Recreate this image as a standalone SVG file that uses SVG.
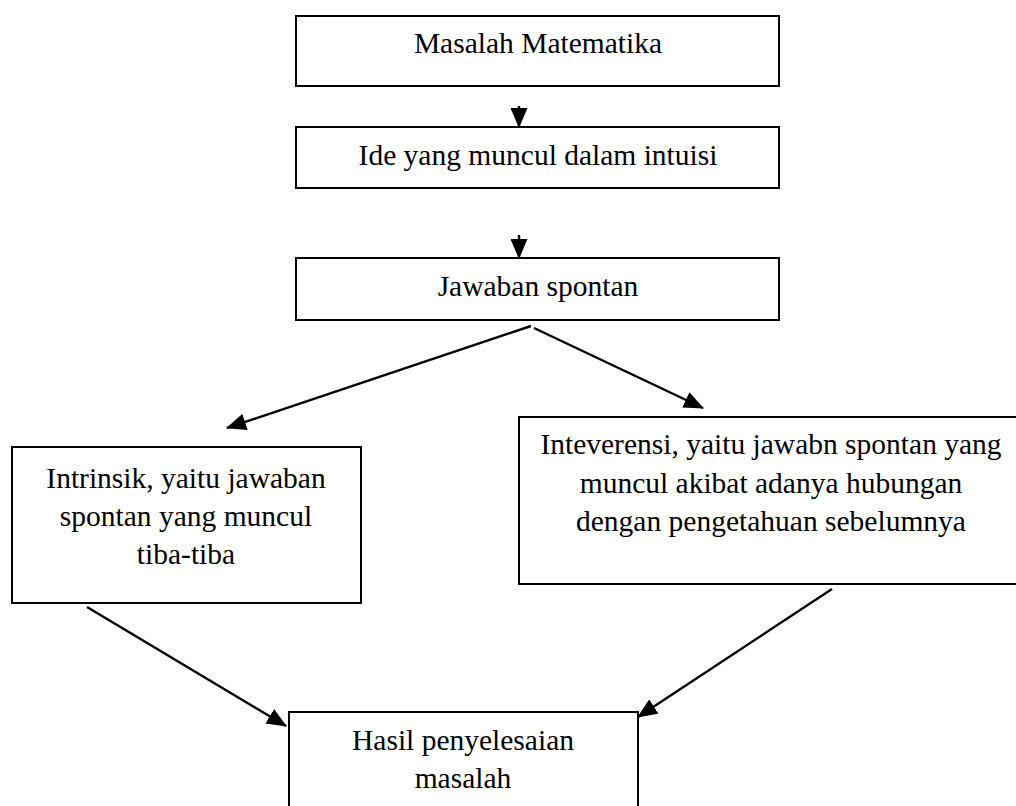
<svg xmlns="http://www.w3.org/2000/svg" width="1016" height="806" viewBox="0 0 1016 806">
<defs>
<style>
.box{fill:#fff;stroke:#000;stroke-width:2}
.t{font-family:"Liberation Serif","Times New Roman",serif;font-size:29.5px;fill:#000;text-anchor:middle}
.c{stroke:#000;stroke-width:2.4;fill:none;marker-end:url(#ah)}
</style>
<marker id="ah" markerUnits="userSpaceOnUse" markerWidth="20" markerHeight="17" refX="19" refY="8.5" orient="auto" viewBox="0 0 20 17">
<path d="M0,0 L20,8.5 L0,17 z" fill="#000"/>
</marker>
</defs>
<rect width="1016" height="806" fill="#fff"/>
<g id="connectors">
<line class="c" x1="519" y1="106" x2="519" y2="127"/>
<line class="c" x1="519" y1="235" x2="519" y2="258"/>
<line class="c" x1="531" y1="326" x2="227" y2="428"/>
<line class="c" x1="534" y1="328" x2="703" y2="408"/>
<line class="c" x1="87" y1="607" x2="286" y2="726"/>
<line class="c" x1="832" y1="589" x2="638" y2="717"/>
</g>
<g id="n1">
<rect class="box" x="296" y="16" width="483" height="70"/>
<text class="t" x="538" y="53">Masalah Matematika</text>
</g>
<g id="n2">
<rect class="box" x="296" y="127" width="483" height="61"/>
<text class="t" x="538" y="165">Ide yang muncul dalam intuisi</text>
</g>
<g id="n3">
<rect class="box" x="296" y="258" width="483" height="62"/>
<text class="t" x="538" y="296">Jawaban spontan</text>
</g>
<g id="n4">
<rect class="box" x="12" y="447" width="349" height="156"/>
<text class="t" x="186" y="488">Intrinsik, yaitu jawaban</text>
<text class="t" x="186" y="526">spontan yang muncul</text>
<text class="t" x="186" y="564">tiba-tiba</text>
</g>
<g id="n5">
<rect class="box" x="519" y="417" width="504" height="167"/>
<text class="t" x="771" y="454">Inteverensi, yaitu jawabn spontan yang</text>
<text class="t" x="771" y="493">muncul akibat adanya hubungan</text>
<text class="t" x="771" y="531">dengan pengetahuan sebelumnya</text>
</g>
<g id="n6">
<rect class="box" x="289" y="712" width="349" height="110"/>
<text class="t" x="463" y="750">Hasil penyelesaian</text>
<text class="t" x="463" y="788">masalah</text>
</g>
</svg>
